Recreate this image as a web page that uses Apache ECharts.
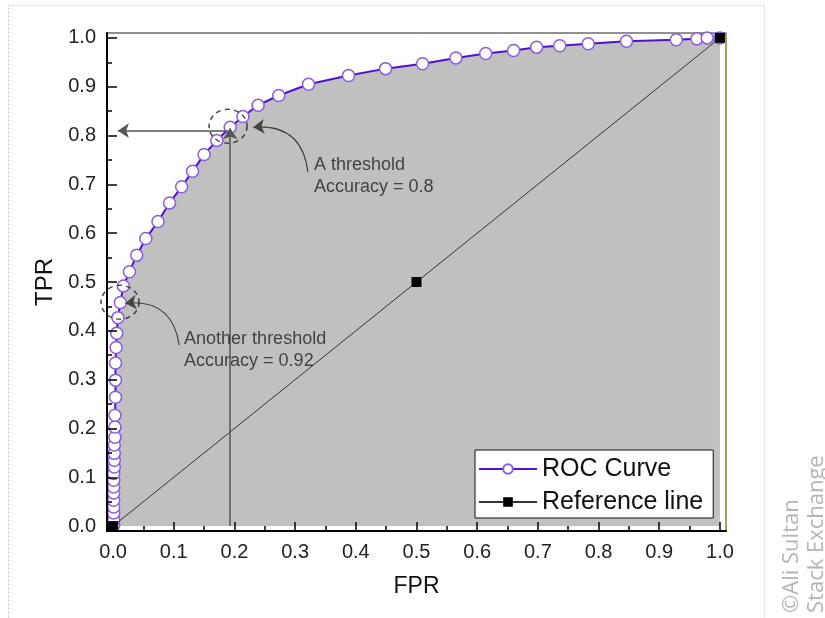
<!DOCTYPE html>
<html lang="en">
<head>
    <meta charset="utf-8">
    <title>ROC curve</title>
    <script src="https://cdn.jsdelivr.net/npm/echarts@6/dist/echarts.min.js"></script>
    <style>
        html, body { margin: 0; padding: 0; background: #fff; }
    </style>
</head>
<body>
<div id="main" style="width: 825px;height:618px;"></div>

<script type="text/javascript">
    // ROC curve points (FPR, TPR)
    var rocX = [0.001, 0.001, 0.001, 0.001, 0.001, 0.001, 0.001, 0.001, 0.001, 0.002, 0.002, 0.002, 0.002,
        0.003, 0.003, 0.003, 0.004, 0.004, 0.004, 0.005, 0.006, 0.008, 0.012, 0.017, 0.027, 0.039, 0.054,
        0.074, 0.093, 0.113, 0.131, 0.150, 0.171, 0.193, 0.214, 0.239, 0.273, 0.322, 0.388, 0.449, 0.510,
        0.565, 0.614, 0.660, 0.698, 0.736, 0.783, 0.846, 0.928, 0.962, 0.979, 1.0];
    var rocY = [0.002, 0.012, 0.027, 0.039, 0.053, 0.068, 0.080, 0.094, 0.108, 0.121, 0.135, 0.149, 0.166,
        0.182, 0.203, 0.227, 0.264, 0.299, 0.334, 0.366, 0.395, 0.427, 0.458, 0.492, 0.521, 0.555, 0.589,
        0.624, 0.662, 0.695, 0.727, 0.761, 0.790, 0.817, 0.839, 0.862, 0.882, 0.905, 0.923, 0.937, 0.947,
        0.959, 0.968, 0.974, 0.981, 0.984, 0.988, 0.993, 0.996, 0.998, 1.0, 1.0];

    // reference (chance) line
    var refX = [0, 0.5, 1];
    var refY = [0, 0.5, 1];

    // tick positions
    var majorTicks = [0, 0.1, 0.2, 0.3, 0.4, 0.5, 0.6, 0.7, 0.8, 0.9, 1.0];
    var minorTicks = [0.05, 0.15, 0.25, 0.35, 0.45, 0.55, 0.65, 0.75, 0.85, 0.95];

    // annotations: highlighted thresholds, arrows and notes
    var circleCenters = [[0.1895, 0.819], [0.0115, 0.4585]];
    var guideArrows = [
        [[0.193, 0], [0.193, 0.815]],
        [[0.193, 0.81], [0.008, 0.81]]
    ];
    var noteArrows = [
        [[0.321, 0.725], [0.231, 0.817]],
        [[0.109, 0.371], [0.020, 0.4565]]
    ];
    var notePos = [[0.331, 0.7165], [0.117, 0.3613]];
    var noteText = ['A threshold\nAccuracy = 0.8', 'Another threshold\nAccuracy = 0.92'];

    var myChart = echarts.init(document.getElementById('main'));

    var font = '"Liberation Sans", Arial, sans-serif';

    function pairs(xs, ys) {
        var out = [];
        for (var i = 0; i < xs.length; i++) out.push([xs[i], ys[i]]);
        return out;
    }

    var mainX = {
        type: 'value', min: -0.01, max: 1.01, position: 'bottom', z: 10,
        name: 'FPR', nameLocation: 'middle', nameGap: 44,
        nameTextStyle: { fontFamily: font, fontSize: 23, color: '#111' },
        axisLine: { onZero: false, lineStyle: { color: '#000', width: 2 } },
        axisTick: { inside: true, length: 9, customValues: majorTicks, lineStyle: { color: '#000', width: 1.5 } },
        axisLabel: {
            customValues: majorTicks, margin: 11, fontFamily: font, fontSize: 20, color: '#222',
            formatter: function (v) { return v.toFixed(1); }
        },
        splitLine: { show: false }
    };
    var minorX = {
        type: 'value', min: -0.01, max: 1.01, position: 'bottom', z: 10,
        axisLine: { show: false, onZero: false },
        axisTick: { inside: true, length: 5, customValues: minorTicks, lineStyle: { color: '#000', width: 1.5 } },
        axisLabel: { show: false },
        splitLine: { show: false }
    };
    var mainY = {
        type: 'value', min: -0.01, max: 1.01, position: 'left', z: 10,
        name: 'TPR', nameLocation: 'middle', nameGap: 50,
        nameTextStyle: { fontFamily: font, fontSize: 24, color: '#111' },
        axisLine: { onZero: false, lineStyle: { color: '#000', width: 2 } },
        axisTick: { inside: true, length: 10, customValues: majorTicks, lineStyle: { color: '#000', width: 1.5 } },
        axisLabel: {
            customValues: majorTicks, margin: 11, fontFamily: font, fontSize: 20, color: '#222',
            formatter: function (v) { return v.toFixed(1); }
        },
        splitLine: { show: false }
    };
    var minorY = {
        type: 'value', min: -0.01, max: 1.01, position: 'left', z: 10,
        axisLine: { show: false, onZero: false },
        axisTick: { inside: true, length: 5, customValues: minorTicks, lineStyle: { color: '#000', width: 1.5 } },
        axisLabel: { show: false },
        splitLine: { show: false }
    };
    var rightY = {
        type: 'value', min: -0.01, max: 1.01, position: 'right', z: 10,
        axisLine: { show: true, onZero: false, lineStyle: { color: '#b89c52', width: 1.5 } },
        axisTick: { show: false }, axisLabel: { show: false }, splitLine: { show: false }
    };

    var option = {
        animation: false,
        backgroundColor: '#fff',
        grid: {
            left: 107, right: 99, top: 33, bottom: 87,
            show: true, backgroundColor: '#fff', borderColor: '#222', borderWidth: 1
        },
        xAxis: [mainX, minorX],
        yAxis: [mainY, minorY, rightY],
        legend: {
            data: ['ROC Curve', 'Reference line'],
            orient: 'vertical',
            left: 475, top: 450,
            itemWidth: 58, itemHeight: 12, itemGap: 5,
            padding: [5, 10, 2, 3],
            backgroundColor: '#fff', borderColor: '#111', borderWidth: 1, borderRadius: 0,
            textStyle: { fontFamily: font, fontSize: 25, color: '#111', lineHeight: 28 }
        },
        graphic: [{
            type: 'rect', silent: true, z: -1,
            shape: { x: 8.5, y: 5.5, width: 756, height: 700 },
            style: { fill: null, stroke: '#ccc', lineWidth: 1, lineDash: [2, 2] }
        }, {
            type: 'text', silent: true, x: 779, y: 613, rotation: Math.PI / 2,
            style: {
                text: '©Ali Sultan\nStack Exchange', fill: '#b4b4b4',
                font: '22px "Open Sans", "DejaVu Sans", sans-serif', lineHeight: 25,
                textAlign: 'left', textVerticalAlign: 'top'
            }
        }],
        series: [{
            name: 'ROC Curve',
            type: 'line',
            data: pairs(rocX, rocY),
            symbol: 'circle', symbolSize: 12, showAllSymbol: true,
            lineStyle: { color: '#5210cc', width: 2 },
            itemStyle: { color: '#fff', borderColor: '#8a5ce0', borderWidth: 1.5 },
            areaStyle: { color: '#c0c0c0', opacity: 1, origin: 0 },
            z: 2
        }, {
            name: 'Reference line',
            type: 'line',
            data: pairs(refX, refY),
            symbol: 'rect', symbolSize: 10,
            lineStyle: { color: '#333', width: 1 },
            itemStyle: { color: '#000' },
            z: 3
        }, {
            type: 'lines', coordinateSystem: 'cartesian2d',
            symbol: ['none', 'arrow'], symbolSize: [8, 11],
            lineStyle: { color: '#555', width: 1.5, opacity: 1, curveness: 0 },
            data: guideArrows.map(function (c) { return { coords: c }; }),
            z: 4
        }, {
            type: 'lines', coordinateSystem: 'cartesian2d',
            symbol: ['none', 'arrow'], symbolSize: [8, 11],
            lineStyle: { color: '#444', width: 1.2, opacity: 1, curveness: -0.48 },
            data: noteArrows.map(function (c) { return { coords: c }; }),
            z: 4
        }, {
            type: 'scatter',
            data: circleCenters,
            symbol: 'circle', symbolSize: [38, 34],
            itemStyle: { color: 'rgba(0,0,0,0)', borderColor: '#222', borderWidth: 1.5, borderType: [5, 4] },
            silent: true,
            z: 5
        }, {
            type: 'scatter',
            data: notePos.map(function (p, i) { return { value: p, label: { formatter: noteText[i] } }; }),
            symbolSize: 0,
            label: {
                show: true, position: [0, 0], align: 'left', verticalAlign: 'middle',
                fontFamily: font, fontSize: 18, lineHeight: 22, color: '#222'
            },
            silent: true,
            z: 6
        }]
    };

    myChart.setOption(option);
</script>
</body>
</html>
